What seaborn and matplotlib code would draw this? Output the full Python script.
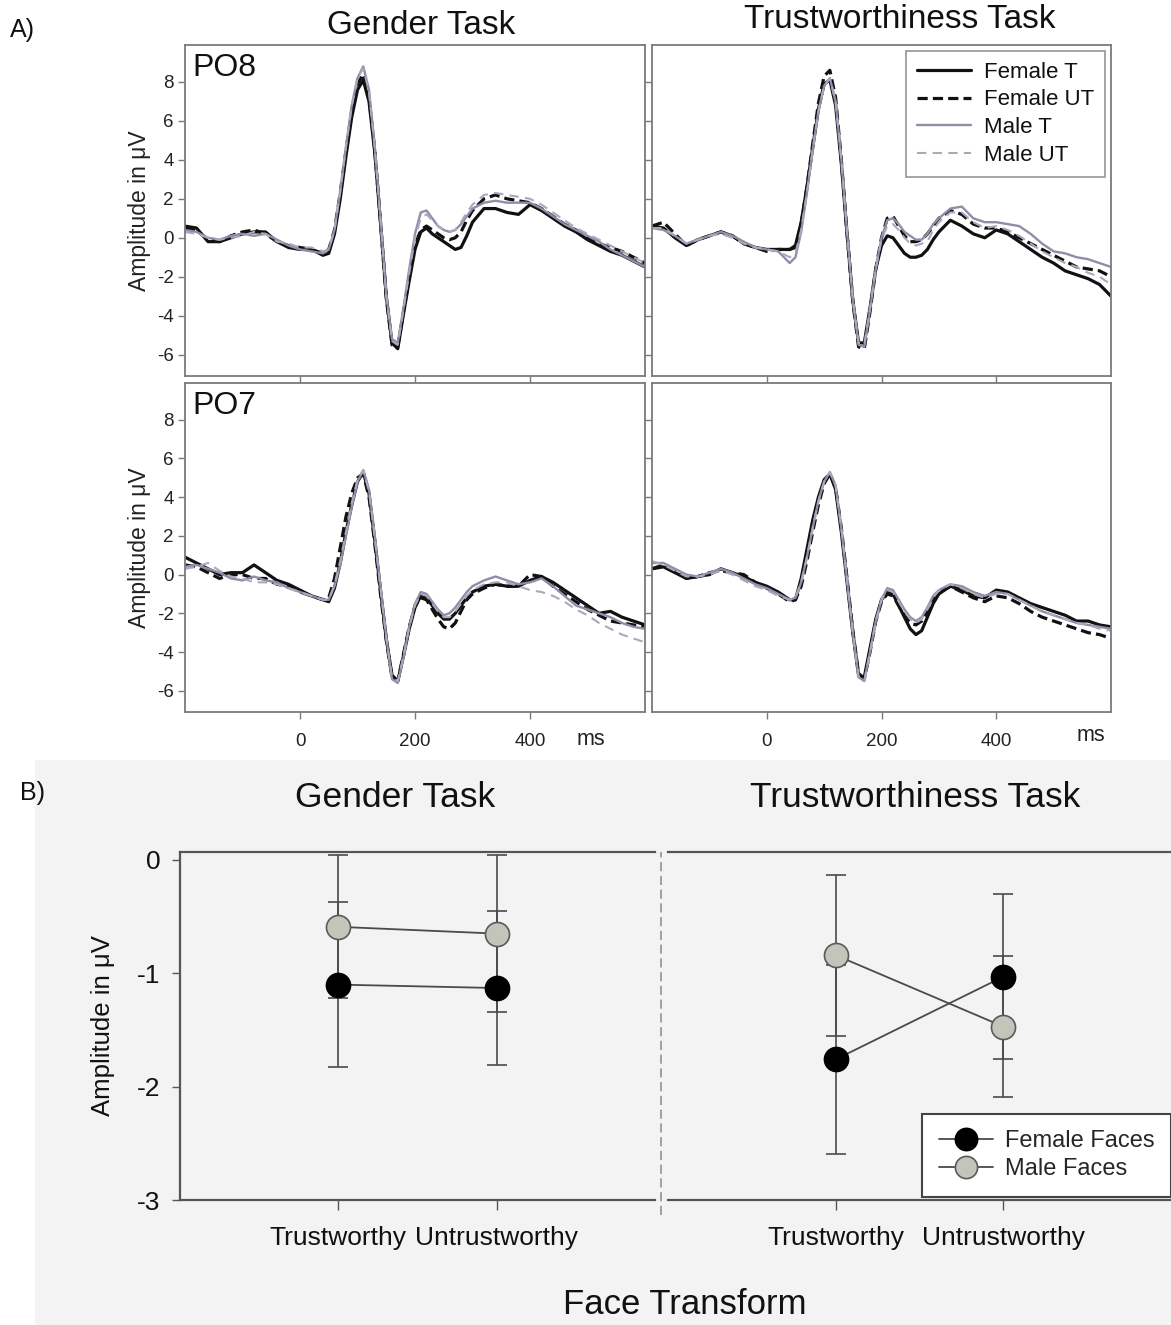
import numpy as np
import pandas as pd
import matplotlib
matplotlib.use("Agg")
import matplotlib.pyplot as plt
import seaborn as sns
from matplotlib.lines import Line2D
from matplotlib.patches import Rectangle

sns.set_theme(style="white")
plt.rcParams['font.family'] = ['Liberation Sans', 'DejaVu Sans']
plt.rcParams['axes.unicode_minus'] = False

# ---------------- data: part A (ERP waveforms) ----------------
time_ms = [-200, -180, -160, -140, -120, -100, -80, -60, -40, -20, 0, 20, 40,
           50, 60, 70, 80, 90, 100, 110, 120, 130, 140, 150, 160, 170, 180, 190, 200,
           210, 220, 230, 240, 250, 260, 270, 280, 290, 300,
           320, 340, 360, 380, 400, 420, 440, 460, 480, 500, 520, 540, 560, 580, 600]
conditions = ["Female T", "Female UT", "Male T", "Male UT"]

gender_po8_female_t = [0.6, 0.5, -0.2, -0.2, 0.0, 0.2, 0.3, 0.3, -0.2, -0.5, -0.6, -0.6, -0.9,
                       -0.8, 0.2, 2.0, 4.2, 6.2, 7.6, 8.1, 7.0, 4.4, 0.8, -3.0, -5.4, -5.7, -3.9, -2.2, -0.6,
                       0.3, 0.5, 0.2, 0.0, -0.2, -0.4, -0.6, -0.5, 0.1, 0.8,
                       1.5, 1.5, 1.3, 1.2, 1.7, 1.4, 1.0, 0.6, 0.3, -0.1, -0.4, -0.7, -0.9, -1.2, -1.5]
gender_po8_female_ut = [0.5, 0.4, -0.1, -0.2, 0.1, 0.3, 0.4, 0.2, -0.2, -0.4, -0.5, -0.6, -0.8,
                        -0.6, 0.4, 2.3, 4.5, 6.5, 7.9, 8.4, 7.2, 4.5, 0.8, -3.1, -5.5, -5.6, -3.8, -2.0, -0.4,
                        0.4, 0.6, 0.4, 0.2, 0.0, -0.1, 0.0, 0.3, 0.9, 1.4,
                        2.0, 2.2, 2.0, 1.9, 1.8, 1.5, 1.1, 0.7, 0.4, 0.0, -0.3, -0.5, -0.7, -1.0, -1.3]
gender_po8_male_t = [0.4, 0.3, 0.0, -0.1, 0.1, 0.2, 0.1, 0.2, -0.1, -0.4, -0.6, -0.7, -0.8,
                     -0.6, 0.4, 2.4, 4.7, 6.8, 8.2, 8.8, 7.6, 4.7, 1.0, -2.9, -5.2, -5.4, -3.6, -1.6, 0.2,
                     1.3, 1.4, 1.0, 0.6, 0.4, 0.3, 0.4, 0.7, 1.1, 1.5,
                     1.8, 1.9, 1.8, 1.8, 1.8, 1.5, 1.1, 0.7, 0.4, 0.1, -0.2, -0.6, -0.9, -1.2, -1.5]
gender_po8_male_ut = [0.3, 0.2, 0.0, -0.1, 0.0, 0.1, 0.3, 0.2, -0.2, -0.3, -0.5, -0.5, -0.7,
                      -0.6, 0.4, 2.4, 4.7, 6.8, 8.2, 8.7, 7.5, 4.6, 0.9, -3.0, -5.3, -5.5, -3.7, -1.8, 0.0,
                      1.0, 1.2, 0.9, 0.6, 0.4, 0.3, 0.4, 0.8, 1.3, 1.7,
                      2.2, 2.3, 2.2, 2.1, 2.0, 1.7, 1.3, 0.9, 0.5, 0.2, -0.1, -0.4, -0.7, -1.0, -1.3]

trust_po8_female_t = [0.6, 0.5, 0.0, -0.4, -0.1, 0.1, 0.3, 0.1, -0.3, -0.5, -0.6, -0.6, -0.6,
                      -0.4, 0.8, 2.6, 4.6, 6.6, 7.9, 8.1, 6.8, 3.8, 0.2, -3.2, -5.4, -5.4, -3.6, -1.6, -0.4,
                      0.1, 0.0, -0.4, -0.8, -1.0, -1.0, -0.9, -0.6, -0.1, 0.3,
                      0.9, 0.6, 0.2, 0.0, 0.4, 0.2, -0.2, -0.6, -1.0, -1.3, -1.7, -1.9, -2.1, -2.4, -3.0]
trust_po8_female_ut = [0.6, 0.8, 0.2, -0.4, -0.1, 0.1, 0.3, 0.1, -0.3, -0.5, -0.7, -0.6, -0.6,
                       -0.5, 0.7, 2.6, 4.8, 6.9, 8.3, 8.6, 7.2, 4.0, 0.2, -3.3, -5.6, -5.7, -3.8, -1.6, 0.0,
                       1.0, 1.1, 0.6, 0.1, -0.2, -0.2, -0.1, 0.2, 0.6, 1.0,
                       1.4, 1.2, 0.7, 0.5, 0.5, 0.3, 0.0, -0.3, -0.6, -0.9, -1.2, -1.5, -1.6, -1.7, -2.0]
trust_po8_male_t = [0.5, 0.4, 0.1, -0.3, -0.1, 0.1, 0.3, 0.1, -0.2, -0.5, -0.6, -0.7, -1.3,
                    -1.0, 0.3, 2.3, 4.5, 6.5, 7.8, 8.2, 7.0, 4.0, 0.3, -3.2, -5.5, -5.6, -3.7, -1.6, 0.0,
                    0.9, 1.0, 0.7, 0.3, 0.1, -0.1, -0.1, 0.2, 0.7, 1.0,
                    1.5, 1.6, 1.0, 0.8, 0.8, 0.7, 0.6, 0.2, -0.3, -0.7, -0.8, -1.0, -1.1, -1.3, -1.5]
trust_po8_male_ut = [0.5, 0.5, 0.1, -0.3, -0.1, 0.1, 0.2, 0.0, -0.3, -0.5, -0.6, -0.7, -1.0,
                     -0.8, 0.4, 2.3, 4.5, 6.5, 7.8, 8.2, 7.0, 4.0, 0.3, -3.1, -5.4, -5.5, -3.6, -1.6, -0.1,
                     0.6, 0.7, 0.4, 0.0, -0.3, -0.4, -0.3, -0.2, 0.4, 0.8,
                     1.3, 1.3, 0.8, 0.5, 0.6, 0.4, 0.1, -0.3, -0.7, -1.0, -1.3, -1.5, -1.8, -2.0, -2.4]

gender_po7_female_t = [0.9, 0.6, 0.3, 0.0, 0.1, 0.1, 0.5, 0.1, -0.3, -0.5, -0.8, -1.1, -1.3,
                       -1.4, -0.7, 0.6, 2.2, 3.6, 4.8, 5.3, 4.2, 1.8, -0.8, -3.3, -5.2, -5.5, -4.2, -2.8, -1.7,
                       -1.1, -1.2, -1.6, -2.0, -2.3, -2.3, -2.0, -1.6, -1.2, -0.9,
                       -0.6, -0.5, -0.6, -0.6, -0.3, -0.1, -0.4, -0.8, -1.2, -1.6, -2.0, -1.9, -2.2, -2.4, -2.6]
gender_po7_female_ut = [0.5, 0.4, 0.1, -0.2, 0.0, 0.0, -0.2, -0.2, -0.5, -0.6, -0.9, -1.1, -1.3,
                        -1.2, -0.2, 1.4, 3.0, 4.2, 5.0, 5.2, 4.0, 1.6, -1.0, -3.4, -5.3, -5.5, -4.1, -2.7, -1.6,
                        -1.2, -1.3, -1.8, -2.3, -2.7, -2.8, -2.5, -1.9, -1.3, -1.0,
                        -0.7, -0.5, -0.6, -0.6, 0.0, -0.1, -0.6, -1.0, -1.4, -1.8, -2.1, -2.4, -2.5, -2.6, -2.7]
gender_po7_male_t = [0.4, 0.5, 0.3, 0.1, -0.2, -0.3, -0.1, -0.3, -0.4, -0.7, -0.9, -1.1, -1.3,
                     -1.3, -0.6, 0.5, 2.0, 3.5, 4.8, 5.4, 4.4, 2.0, -0.6, -3.2, -5.4, -5.6, -4.3, -2.7, -1.5,
                     -0.9, -1.0, -1.4, -1.8, -2.1, -2.0, -1.7, -1.3, -0.9, -0.6,
                     -0.3, -0.1, -0.3, -0.5, -0.4, -0.2, -0.6, -1.1, -1.6, -1.8, -2.0, -2.2, -2.5, -2.7, -2.8]
gender_po7_male_ut = [0.3, 0.4, 0.6, 0.2, -0.1, -0.2, -0.4, -0.4, -0.5, -0.7, -0.9, -1.1, -1.3,
                      -1.3, -0.5, 0.7, 2.2, 3.7, 4.9, 5.4, 4.3, 1.9, -0.7, -3.3, -5.3, -5.5, -4.2, -2.7, -1.6,
                      -1.0, -1.1, -1.5, -1.9, -2.2, -2.2, -1.9, -1.5, -1.1, -0.8,
                      -0.5, -0.4, -0.4, -0.6, -0.8, -0.9, -1.1, -1.4, -1.8, -2.1, -2.5, -2.8, -3.1, -3.3, -3.5]

trust_po7_female_t = [0.3, 0.4, 0.1, -0.2, -0.1, 0.0, 0.3, 0.1, -0.1, -0.4, -0.6, -0.9, -1.3,
                      -1.3, -0.2, 1.3, 2.8, 4.0, 4.9, 5.2, 4.4, 2.2, -0.4, -3.0, -5.2, -5.3, -3.8, -2.3, -1.3,
                      -0.9, -1.0, -1.6, -2.2, -2.8, -3.1, -2.9, -2.2, -1.5, -1.0,
                      -0.6, -0.8, -1.1, -1.2, -0.8, -0.9, -1.2, -1.5, -1.7, -1.9, -2.1, -2.4, -2.4, -2.6, -2.7]
trust_po7_female_ut = [0.3, 0.5, 0.2, -0.2, -0.1, 0.1, 0.2, 0.1, 0.0, -0.4, -0.7, -1.0, -1.4,
                       -1.3, -0.6, 0.7, 2.2, 3.6, 4.7, 5.2, 4.5, 2.4, -0.2, -2.9, -5.1, -5.4, -4.0, -2.4, -1.4,
                       -1.0, -1.1, -1.6, -2.1, -2.5, -2.6, -2.4, -1.9, -1.3, -0.9,
                       -0.6, -0.9, -1.2, -1.4, -1.1, -1.2, -1.5, -1.9, -2.2, -2.4, -2.6, -2.8, -3.0, -3.1, -3.3]
trust_po7_male_t = [0.6, 0.6, 0.3, 0.0, -0.1, 0.1, 0.3, 0.1, -0.2, -0.5, -0.7, -1.0, -1.3,
                    -1.2, -0.4, 0.9, 2.4, 3.8, 4.8, 5.3, 4.6, 2.4, -0.3, -3.0, -5.3, -5.5, -4.0, -2.4, -1.3,
                    -0.7, -0.8, -1.3, -1.8, -2.2, -2.4, -2.2, -1.7, -1.1, -0.8,
                    -0.5, -0.6, -0.9, -1.1, -0.9, -1.0, -1.3, -1.6, -1.9, -2.1, -2.3, -2.5, -2.6, -2.7, -2.8]
trust_po7_male_ut = [0.7, 0.5, 0.2, -0.1, -0.1, 0.0, 0.2, 0.0, -0.3, -0.6, -0.8, -1.1, -1.3,
                     -1.2, -0.4, 0.9, 2.4, 3.8, 4.8, 5.3, 4.6, 2.4, -0.3, -3.0, -5.3, -5.5, -4.0, -2.4, -1.3,
                     -0.8, -0.9, -1.4, -1.9, -2.3, -2.5, -2.3, -1.8, -1.2, -0.8,
                     -0.5, -0.7, -1.0, -1.2, -1.0, -1.0, -1.3, -1.6, -1.9, -2.1, -2.3, -2.5, -2.6, -2.8, -2.9]

erp_yticks = [-6, -4, -2, 0, 2, 4, 6, 8]
erp_xticks = [0, 200, 400]

# ---------------- data: part B (means and error bars) ----------------
transform_labels = ["Trustworthy", "Untrustworthy"]
face_labels = ["Female Faces", "Male Faces"]
gender_female_mean = [-1.10, -1.13]
gender_female_err = [0.73, 0.68]
gender_male_mean = [-0.59, -0.65]
gender_male_err = [0.63, 0.69]
trust_female_mean = [-1.76, -1.03]
trust_female_err = [0.83, 0.73]
trust_male_mean = [-0.84, -1.47]
trust_male_err = [0.71, 0.62]
b_yticks = [0, -1, -2, -3]

# ---------------- figure ----------------
W, H = 1171, 1325
fig = plt.figure(figsize=(W / 100, H / 100), dpi=100)
fig.patch.set_facecolor("white")


def ax_px(x0, y0, x1, y1):
    return fig.add_axes([x0 / W, 1 - y1 / H, (x1 - x0) / W, (y1 - y0) / H])


def fx(x):
    return x / W


def fy(y):
    return 1 - y / H


# background of part B (drawn below all axes)
bg = Rectangle((fx(35), 0), fx(W) - fx(35), fy(760), transform=fig.transFigure,
               facecolor="#f3f3f3", edgecolor="none", zorder=-5)
fig.add_artist(bg)

line_colors = {"Female T": "#111111", "Female UT": "#111111", "Male T": "#8e8ea8", "Male UT": "#a9a9bb"}
dash_map = {"Female T": "", "Female UT": (3.2, 1.6), "Male T": "", "Male UT": (4.5, 3.0)}
lw_map = {"Female T": 2.3, "Female UT": 2.3, "Male T": 1.7, "Male UT": 1.5}


def erp_frame(series):
    return pd.DataFrame({
        "ms": np.tile(time_ms, len(conditions)),
        "amp": np.concatenate([series[c] for c in conditions]),
        "cond": np.repeat(conditions, len(time_ms)),
    })


panels = [
    ((185, 45, 645, 376), {"Female T": gender_po8_female_t, "Female UT": gender_po8_female_ut,
                           "Male T": gender_po8_male_t, "Male UT": gender_po8_male_ut}, "PO8", True, False),
    ((652, 45, 1111, 376), {"Female T": trust_po8_female_t, "Female UT": trust_po8_female_ut,
                            "Male T": trust_po8_male_t, "Male UT": trust_po8_male_ut}, None, False, False),
    ((185, 383, 645, 712), {"Female T": gender_po7_female_t, "Female UT": gender_po7_female_ut,
                            "Male T": gender_po7_male_t, "Male UT": gender_po7_male_ut}, "PO7", True, True),
    ((652, 383, 1111, 712), {"Female T": trust_po7_female_t, "Female UT": trust_po7_female_ut,
                             "Male T": trust_po7_male_t, "Male UT": trust_po7_male_ut}, None, False, True),
]

erp_axes = []
for box, series, label, is_left, is_bottom in panels:
    ax = ax_px(*box)
    df = erp_frame(series)
    sns.lineplot(data=df, x="ms", y="amp", hue="cond", style="cond", size="cond",
                 hue_order=conditions, style_order=conditions, size_order=conditions,
                 palette=line_colors, dashes=dash_map, sizes=lw_map,
                 estimator=None, legend=False, ax=ax)
    for ln in ax.get_lines():
        ln.set_solid_joinstyle("round")
        ln.set_dash_joinstyle("round")
    ax.set_xlim(-200, 600)
    ax.set_ylim(-7.1, 9.9)
    ax.set_xticks(erp_xticks)
    ax.set_yticks(erp_yticks)
    ax.set_xlabel("")
    ax.set_ylabel("")
    ax.set_facecolor("white")
    for s in ax.spines.values():
        s.set_color("#7a7a7a")
        s.set_linewidth(1.3)
    ax.tick_params(direction="out", length=5, width=1, color="#7a7a7a",
                   labelsize=13.5, labelcolor="#222222", pad=3,
                   left=True, bottom=True)
    if is_left:
        ax.set_ylabel("Amplitude in \u03bcV", fontsize=16.5, color="#222222", labelpad=4)
    else:
        ax.set_yticklabels([])
    if is_bottom:
        ax.tick_params(axis="x", pad=10)
        ax.text(506 if is_left else 565, -0.085 if is_left else -0.07, "ms",
                transform=ax.get_xaxis_transform(), ha="center", va="center",
                fontsize=15.5, color="#222222")
    else:
        ax.set_xticklabels([])
    if label:
        ax.text(0.015, 0.975, label, transform=ax.transAxes, ha="left", va="top",
                fontsize=23, color="#111111")
    erp_axes.append(ax)

# legend for part A
handles = []
for c in conditions:
    h = Line2D([], [], color=line_colors[c], lw=lw_map[c])
    if dash_map[c]:
        h.set_dashes(dash_map[c])
    handles.append(h)
leg = erp_axes[1].legend(handles, conditions, loc="upper right", fontsize=16,
                         frameon=True, fancybox=False, edgecolor="#7a7a7a",
                         borderaxespad=0.25, handlelength=2.4, labelspacing=0.3,
                         borderpad=0.5, handletextpad=0.6)
leg.get_frame().set_linewidth(1.2)
for t in leg.get_texts():
    t.set_color("#111111")

fig.text(fx(421), fy(25), "Gender Task", ha="center", va="center", fontsize=24, color="#111111")
fig.text(fx(900), fy(20), "Trustworthiness Task", ha="center", va="center", fontsize=24, color="#111111")
fig.text(fx(10), fy(30), "A)", ha="left", va="center", fontsize=18, color="#111111")
fig.text(fx(20), fy(793), "B)", ha="left", va="center", fontsize=18, color="#111111")

# ---------------- part B ----------------
fig.text(fx(395), fy(797), "Gender Task", ha="center", va="center", fontsize=25.5, color="#111111")
fig.text(fx(915), fy(797), "Trustworthiness Task", ha="center", va="center", fontsize=25.5, color="#111111")
fig.text(fx(685), fy(1305), "Face Transform", ha="center", va="center", fontsize=25, color="#111111")

face_fill = {"Female Faces": "#000000", "Male Faces": "#c3c5bb"}
face_edge = {"Female Faces": "#000000", "Male Faces": "#5a5a5a"}
conn_color = "#4a4a4a"

b_panels = [
    ((180, 852, 655, 1200), {"Female Faces": (gender_female_mean, gender_female_err),
                             "Male Faces": (gender_male_mean, gender_male_err)}, True),
    ((668, 852, 1171, 1200), {"Female Faces": (trust_female_mean, trust_female_err),
                              "Male Faces": (trust_male_mean, trust_male_err)}, False),
]

b_axes = []
xpos = np.arange(len(transform_labels))
for box, series, is_left in b_panels:
    ax = ax_px(*box)
    ax.set_facecolor("none")
    for face in face_labels:
        means, errs = series[face]
        ax.errorbar(xpos, means, yerr=errs, fmt="none", ecolor=conn_color, elinewidth=1.2,
                    capsize=7, capthick=1.2, zorder=2)
        sns.lineplot(x=xpos, y=means, color=conn_color, lw=1.3, ax=ax, zorder=3)
        sns.scatterplot(x=xpos, y=means, color=face_fill[face], edgecolor=face_edge[face],
                        linewidth=1.2, s=300, ax=ax, zorder=4)
    ax.set_xlim(-1, 2)
    ax.set_ylim(-3, 0.07)
    ax.set_xticks(xpos)
    ax.set_xticklabels(transform_labels)
    ax.set_yticks(b_yticks)
    for name, s in ax.spines.items():
        s.set_color("#555555")
        s.set_linewidth(1.6)
    ax.spines["right"].set_visible(False)
    ax.tick_params(axis="x", direction="out", length=7, width=1, color="#555555",
                   labelsize=19, labelcolor="#111111", pad=12, bottom=True)
    if is_left:
        ax.tick_params(axis="y", direction="out", length=6, width=1, color="#555555",
                       labelsize=19, labelcolor="#111111", pad=8, left=True)
        ax.set_ylabel("Amplitude in \u03bcV", fontsize=18.5, color="#111111", labelpad=16)
    else:
        ax.spines["left"].set_visible(False)
        ax.tick_params(axis="y", left=False, labelleft=False)
        ax.set_ylabel("")
    ax.set_xlabel("")
    b_axes.append(ax)

# dashed separator between the two task panels
fig.add_artist(Line2D([fx(661), fx(661)], [fy(1215), fy(852)], transform=fig.transFigure,
                      color="#8a8a8a", lw=1.1, dashes=(6, 3)))

# legend for part B
b_handles = [Line2D([], [], color=conn_color, lw=1.3, marker="o", markersize=16,
                    markerfacecolor=face_fill[f], markeredgecolor=face_edge[f], markeredgewidth=1.2)
             for f in face_labels]
bleg = b_axes[1].legend(b_handles, face_labels, loc="lower right", fontsize=17,
                        frameon=True, fancybox=False, edgecolor="#444444",
                        bbox_to_anchor=(1.0, 0.01), borderaxespad=0.0,
                        handlelength=2.3, labelspacing=0.25,
                        borderpad=0.7, handletextpad=0.5, framealpha=1)
bleg.get_frame().set_linewidth(1.5)
bleg.get_frame().set_facecolor("white")

fig.savefig("out.png", dpi=100, facecolor=fig.get_facecolor())
